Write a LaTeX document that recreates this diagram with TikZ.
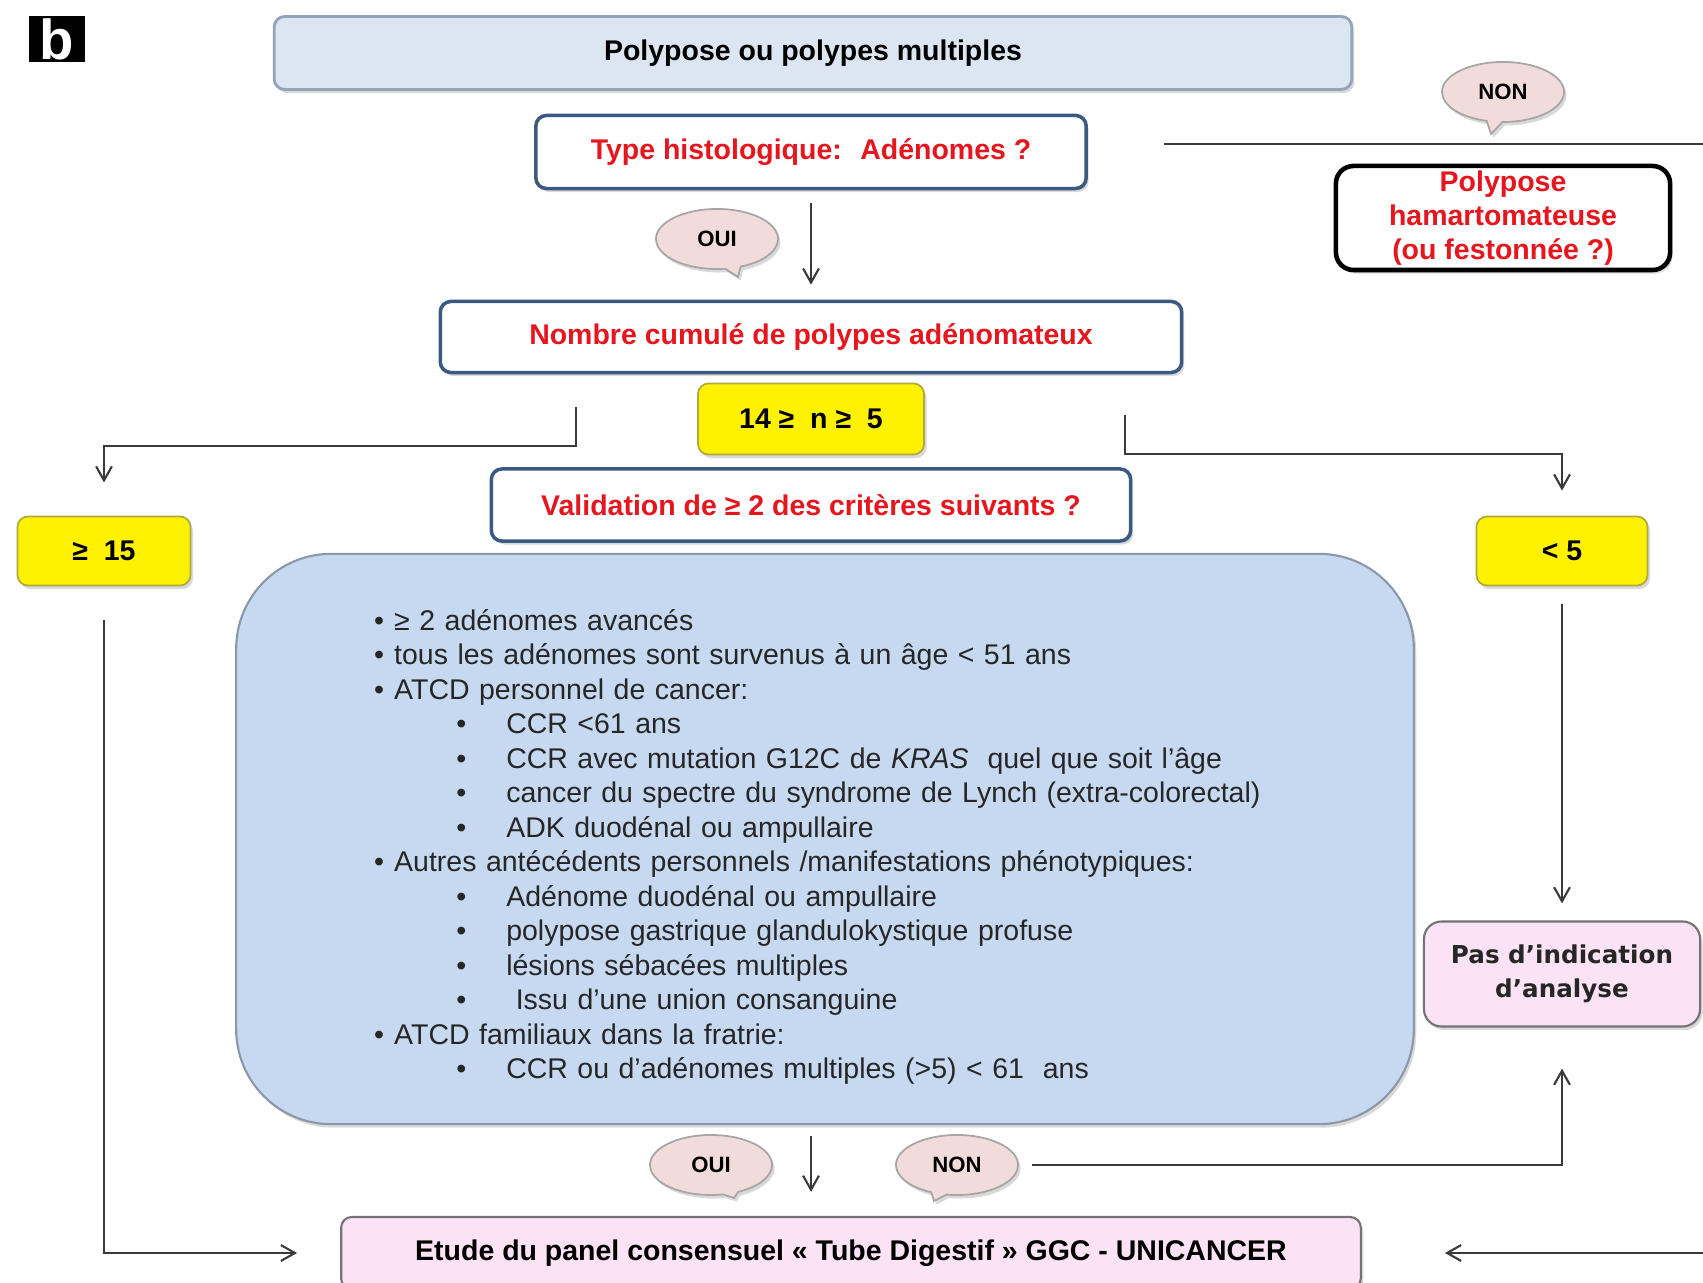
\documentclass[tikz,border=0pt]{standalone}
\usepackage{fontspec}
\setmainfont{Liberation Sans}
\newfontfamily\pasfont{DejaVu Sans}
\usepackage{tikz}
\usetikzlibrary{shapes.callouts,shadows,arrows.meta}

\definecolor{qred}{HTML}{E5161E}
\definecolor{topblue}{HTML}{DCE6F2}
\definecolor{critblue}{HTML}{C6D9F1}
\definecolor{frameblue}{HTML}{3B5A82}
\definecolor{bubblepink}{HTML}{F2DCDB}
\definecolor{resultpink}{HTML}{FBE3F5}
\definecolor{linegray}{HTML}{3A3A3A}

\newcommand{\critmain}[1]{\hspace*{1.38cm}\makebox[0.2cm][l]{\textbullet}#1}
\newcommand{\critsub}[1]{\hspace*{2.2cm}\makebox[0.5cm][l]{\textbullet}#1}

\tikzset{
  boxshadow/.style={drop shadow={opacity=0.3,shadow xshift=0.7pt,shadow yshift=-1pt}},
  basebox/.style={rectangle, rounded corners=3pt, inner sep=0pt, align=center,
    font=\fontsize{8.1}{9.7}\selectfont\bfseries, boxshadow},
  question/.style={basebox, fill=white, draw=frameblue, line width=1pt, text=qred},
  count/.style={basebox, fill=yellow, draw=yellow!65!black, line width=0.5pt},
  result/.style={basebox, fill=resultpink, draw=black!55, line width=0.6pt},
  bubble/.style={ellipse callout, fill=bubblepink, draw=black!35, line width=0.5pt,
    inner sep=0pt, minimum width=1.22cm, minimum height=0.6cm,
    font=\fontsize{6.3}{7}\selectfont\bfseries, boxshadow},
  link/.style={draw=linegray, line width=0.6pt, -{Straight Barb[length=4pt,width=4.5pt]}}
}

\begin{document}
\begin{tikzpicture}[x=0.01cm, y=-0.01cm]
    \useasboundingbox (0,0) rectangle (1703,1283);

    \node[fill=black, text=white, minimum width=0.55cm, minimum height=0.46cm, inner sep=0pt,
      font=\fontsize{16}{16}\selectfont\bfseries] (lbl) at (57,39) {b};

    \node[basebox, fill=topblue, draw=frameblue!55, line width=0.8pt,
      minimum width=10.77cm, minimum height=0.73cm] (top) at (813,53) {Polypose ou polypes multiples};
    \node[question, minimum width=5.50cm, minimum height=0.73cm] (histo) at (811,152)
      {Type histologique:~ Adénomes ?};
    \node[bubble, callout absolute pointer={(1491,134)}] (nonA) at (1503,92) {NON};
    \node[basebox, fill=white, draw=black, line width=1.3pt, rounded corners=5pt, text=qred,
      minimum width=3.34cm, minimum height=1.04cm] (hamart) at (1503,218)
      {Polypose\\hamartomateuse\\(ou festonnée ?)};
    \node[bubble, callout absolute pointer={(738,277)}] (ouiA) at (717,239) {OUI};
    \node[question, minimum width=7.41cm, minimum height=0.71cm] (nombre) at (811,337)
      {Nombre cumulé de polypes adénomateux};
    \node[count, minimum width=2.26cm, minimum height=0.71cm] (mid) at (811,419) {14 ≥~ n ≥~ 5};
    \node[question, minimum width=6.39cm, minimum height=0.72cm] (valid) at (811,505)
      {Validation de ≥ 2 des critères suivants ?};
    \node[count, minimum width=1.73cm, minimum height=0.69cm] (ge15) at (104,551) {≥~ 15};
    \node[count, minimum width=1.71cm, minimum height=0.69cm] (lt5) at (1562,551) {< 5};

    \node[rectangle, rounded corners=0.95cm, fill=critblue, draw=critblue!70!black, line width=0.6pt,
      text width=11.77cm, inner sep=0pt, minimum height=5.70cm, align=left, boxshadow,
      font=\fontsize{8.1}{9.8}\selectfont, text=black!85] (crit) at (825,839)
      {\rule{0pt}{10.5pt}\critmain{≥ 2 adénomes avancés}\\
       \critmain{tous les adénomes sont survenus à un âge < 51 ans}\\
       \critmain{ATCD personnel de cancer:}\\
       \critsub{CCR <61 ans}\\
       \critsub{CCR avec mutation G12C de \textit{KRAS}~ quel que soit l’âge}\\
       \critsub{cancer du spectre du syndrome de Lynch (extra-colorectal)}\\
       \critsub{ADK duodénal ou ampullaire}\\
       \critmain{Autres antécédents personnels /manifestations phénotypiques:}\\
       \critsub{Adénome duodénal ou ampullaire}\\
       \critsub{polypose gastrique glandulokystique profuse}\\
       \critsub{lésions sébacées multiples}\\
       \critsub{\ Issu d’une union consanguine}\\
       \critmain{ATCD familiaux dans la fratrie:}\\
       \critsub{CCR ou d’adénomes multiples (>5) < 61~ ans}};

    \node[bubble, callout absolute pointer={(734,1198)}] (ouiB) at (711,1165) {OUI};
    \node[bubble, callout absolute pointer={(934,1201)}] (nonB) at (957,1165) {NON};
    \node[result, minimum width=2.76cm, minimum height=1.05cm, rounded corners=5pt,
      font=\pasfont\fontsize{7}{9.7}\selectfont\bfseries, text=black!85] (pas) at (1562,974)
      {Pas d’indication\\d’analyse};
    \node[result, minimum width=10.19cm, minimum height=0.72cm] (etude) at (851,1253)
      {Etude du panel consensuel « Tube Digestif » GGC - UNICANCER};

    \coordinate (nonstart) at (1164,144);
    \coordinate (nonend) at (1703,144);
    \coordinate (splitL) at (576,407);
    \coordinate (splitR) at (1125,415);
    \coordinate (etudeR) at (1703,1253);

    \draw[link,-] (nonstart) -- (nonend);
    \draw[link, shorten <=0.13cm, shorten >=0.15cm] (histo) -- (nombre);
    \draw[link, shorten >=0.33cm] (splitL) -- ++(0,39) -| (ge15.north);
    \draw[link, shorten >=0.25cm] (splitR) -- ++(0,39) -| (lt5.north);
    \draw[link, shorten <=0.18cm, shorten >=0.17cm] (lt5) -- (pas);
    \draw[link, shorten <=0.34cm, shorten >=0.43cm] (ge15.south) |- (etude.west);
    \draw[link, shorten <=0.11cm, shorten >=0.24cm] (crit.south -| mid) -- (etude.north -| mid);
    \draw[link, shorten <=0.13cm, shorten >=0.41cm] (nonB.east) -| (pas.south);
    \draw[link, shorten >=0.83cm] (etudeR) -- (etude.east);
\end{tikzpicture}
\end{document}
